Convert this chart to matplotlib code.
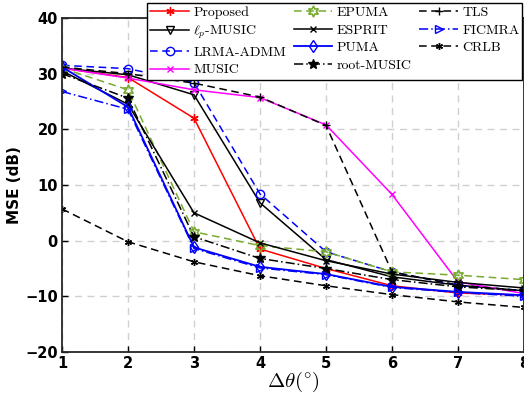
import matplotlib
matplotlib.use('Agg')
import matplotlib.pyplot as plt

plt.rcParams['mathtext.fontset'] = 'cm'

# 角度间隔
delta = [1, 2, 3, 4, 5, 6, 7, 8]

# 各算法 MSE (dB)
proposed = [31.0, 29.3, 22.0, -1.5, -5.0, -8.1, -9.4, -9.8]
lp_music = [31.0, 29.8, 26.2, 6.8, -3.4, -6.5, -8.0, -9.0]
lrma_admm = [31.5, 30.9, 28.4, 8.4, -2.0, -5.6, -8.0, -9.0]
music = [31.0, 29.2, 27.1, 25.7, 20.8, 8.3, -7.4, -9.5]
epuma = [31.0, 27.1, 1.6, -0.9, -2.0, -5.6, -6.2, -7.0]
esprit = [30.5, 24.5, 5.0, -0.4, -3.6, -6.0, -7.5, -8.5]
puma = [31.2, 24.0, -1.2, -4.7, -6.0, -8.3, -9.2, -9.8]
root_music = [30.0, 25.6, 0.7, -3.2, -5.0, -7.0, -8.3, -9.0]
tls = [31.2, 30.0, 28.3, 25.8, 20.7, -5.6, -8.0, -9.0]
ficmra = [26.8, 23.6, -1.4, -4.9, -6.1, -8.4, -9.3, -10.0]
crlb = [5.7, -0.2, -3.8, -6.3, -8.1, -9.7, -11.0, -12.0]

ast = (6, 2, 0)  # 星号标记
green = (0.47, 0.67, 0.19)

fig = plt.figure(figsize=(5.24, 4.03), dpi=100)
ax = fig.add_axes([62/524, 1-352/403, 462/524, 334/403])

# 第一列
ax.plot(delta, proposed, color='r', ls='-', lw=1.1, marker=ast, ms=6, mew=1, label='Proposed')
ax.plot(delta, lp_music, color='k', ls='-', lw=1.1, marker='v', ms=6, mfc='none', mew=1, label=r'$\ell_p$-MUSIC')
ax.plot(delta, lrma_admm, color='b', ls=(0, (5, 3)), lw=1.1, marker='o', ms=6, mfc='none', mew=1, label='LRMA-ADMM')
ax.plot(delta, music, color='#ff00ff', ls='-', lw=1.1, marker='x', ms=5, mew=1, label='MUSIC')
# 第二列
ax.plot(delta, epuma, color=green, ls=(0, (5, 3)), lw=1.1, marker=(6, 1, 0), ms=8, mfc='none', mew=1.2, label='EPUMA')
ax.plot(delta, esprit, color='k', ls='-', lw=1.1, marker='x', ms=4, mew=1, label='ESPRIT')
ax.plot(delta, puma, color='b', ls='-', lw=1.3, marker='d', ms=6, mfc='none', mew=1, label='PUMA')
ax.plot(delta, root_music, color='k', ls=(0, (6, 2, 1, 2)), lw=1.1, marker='*', ms=7, label='root-MUSIC')
# 第三列
ax.plot(delta, tls, color='k', ls=(0, (5, 3)), lw=1.1, marker='+', ms=6, mew=1, label='TLS')
ax.plot(delta, ficmra, color='b', ls=(0, (6, 2, 1, 2)), lw=1.1, marker='>', ms=6, mfc='none', mew=1, label='FICMRA')
ax.plot(delta, crlb, color='k', ls=(0, (5, 3)), lw=1.1, marker=ast, ms=5, mew=1, label='CRLB')

ax.set_xlim(1, 8)
ax.set_ylim(-20, 40)
ax.set_xticks(delta)
ax.set_yticks([-20, -10, 0, 10, 20, 30, 40])
ax.grid(True, ls=(0, (5, 4)), color='#d0d0d0', lw=1)
ax.tick_params(direction='in', length=4, width=1, labelsize=10.5, pad=3)
for lab in ax.get_xticklabels() + ax.get_yticklabels():
    lab.set_fontweight('bold')
for s in ax.spines.values():
    s.set_linewidth(1.3)
    s.set_color('#262626')

ax.set_xlabel(r'$\Delta\theta(^{\circ})$', fontsize=15, labelpad=-1)
ax.set_ylabel('MSE (dB)', fontsize=11, fontweight='bold', labelpad=2)

leg = fig.legend(loc='upper left', bbox_to_anchor=(147/524, 1-3/403), ncol=3,
                 prop={'family': 'cmr10', 'size': 10}, frameon=True, fancybox=False,
                 edgecolor='k', framealpha=1, handlelength=2.8, columnspacing=0.55,
                 handletextpad=0.3, labelspacing=0.36, borderpad=0.22, borderaxespad=0)
leg.get_frame().set_linewidth(1)

plt.savefig('out.png', dpi=100)
